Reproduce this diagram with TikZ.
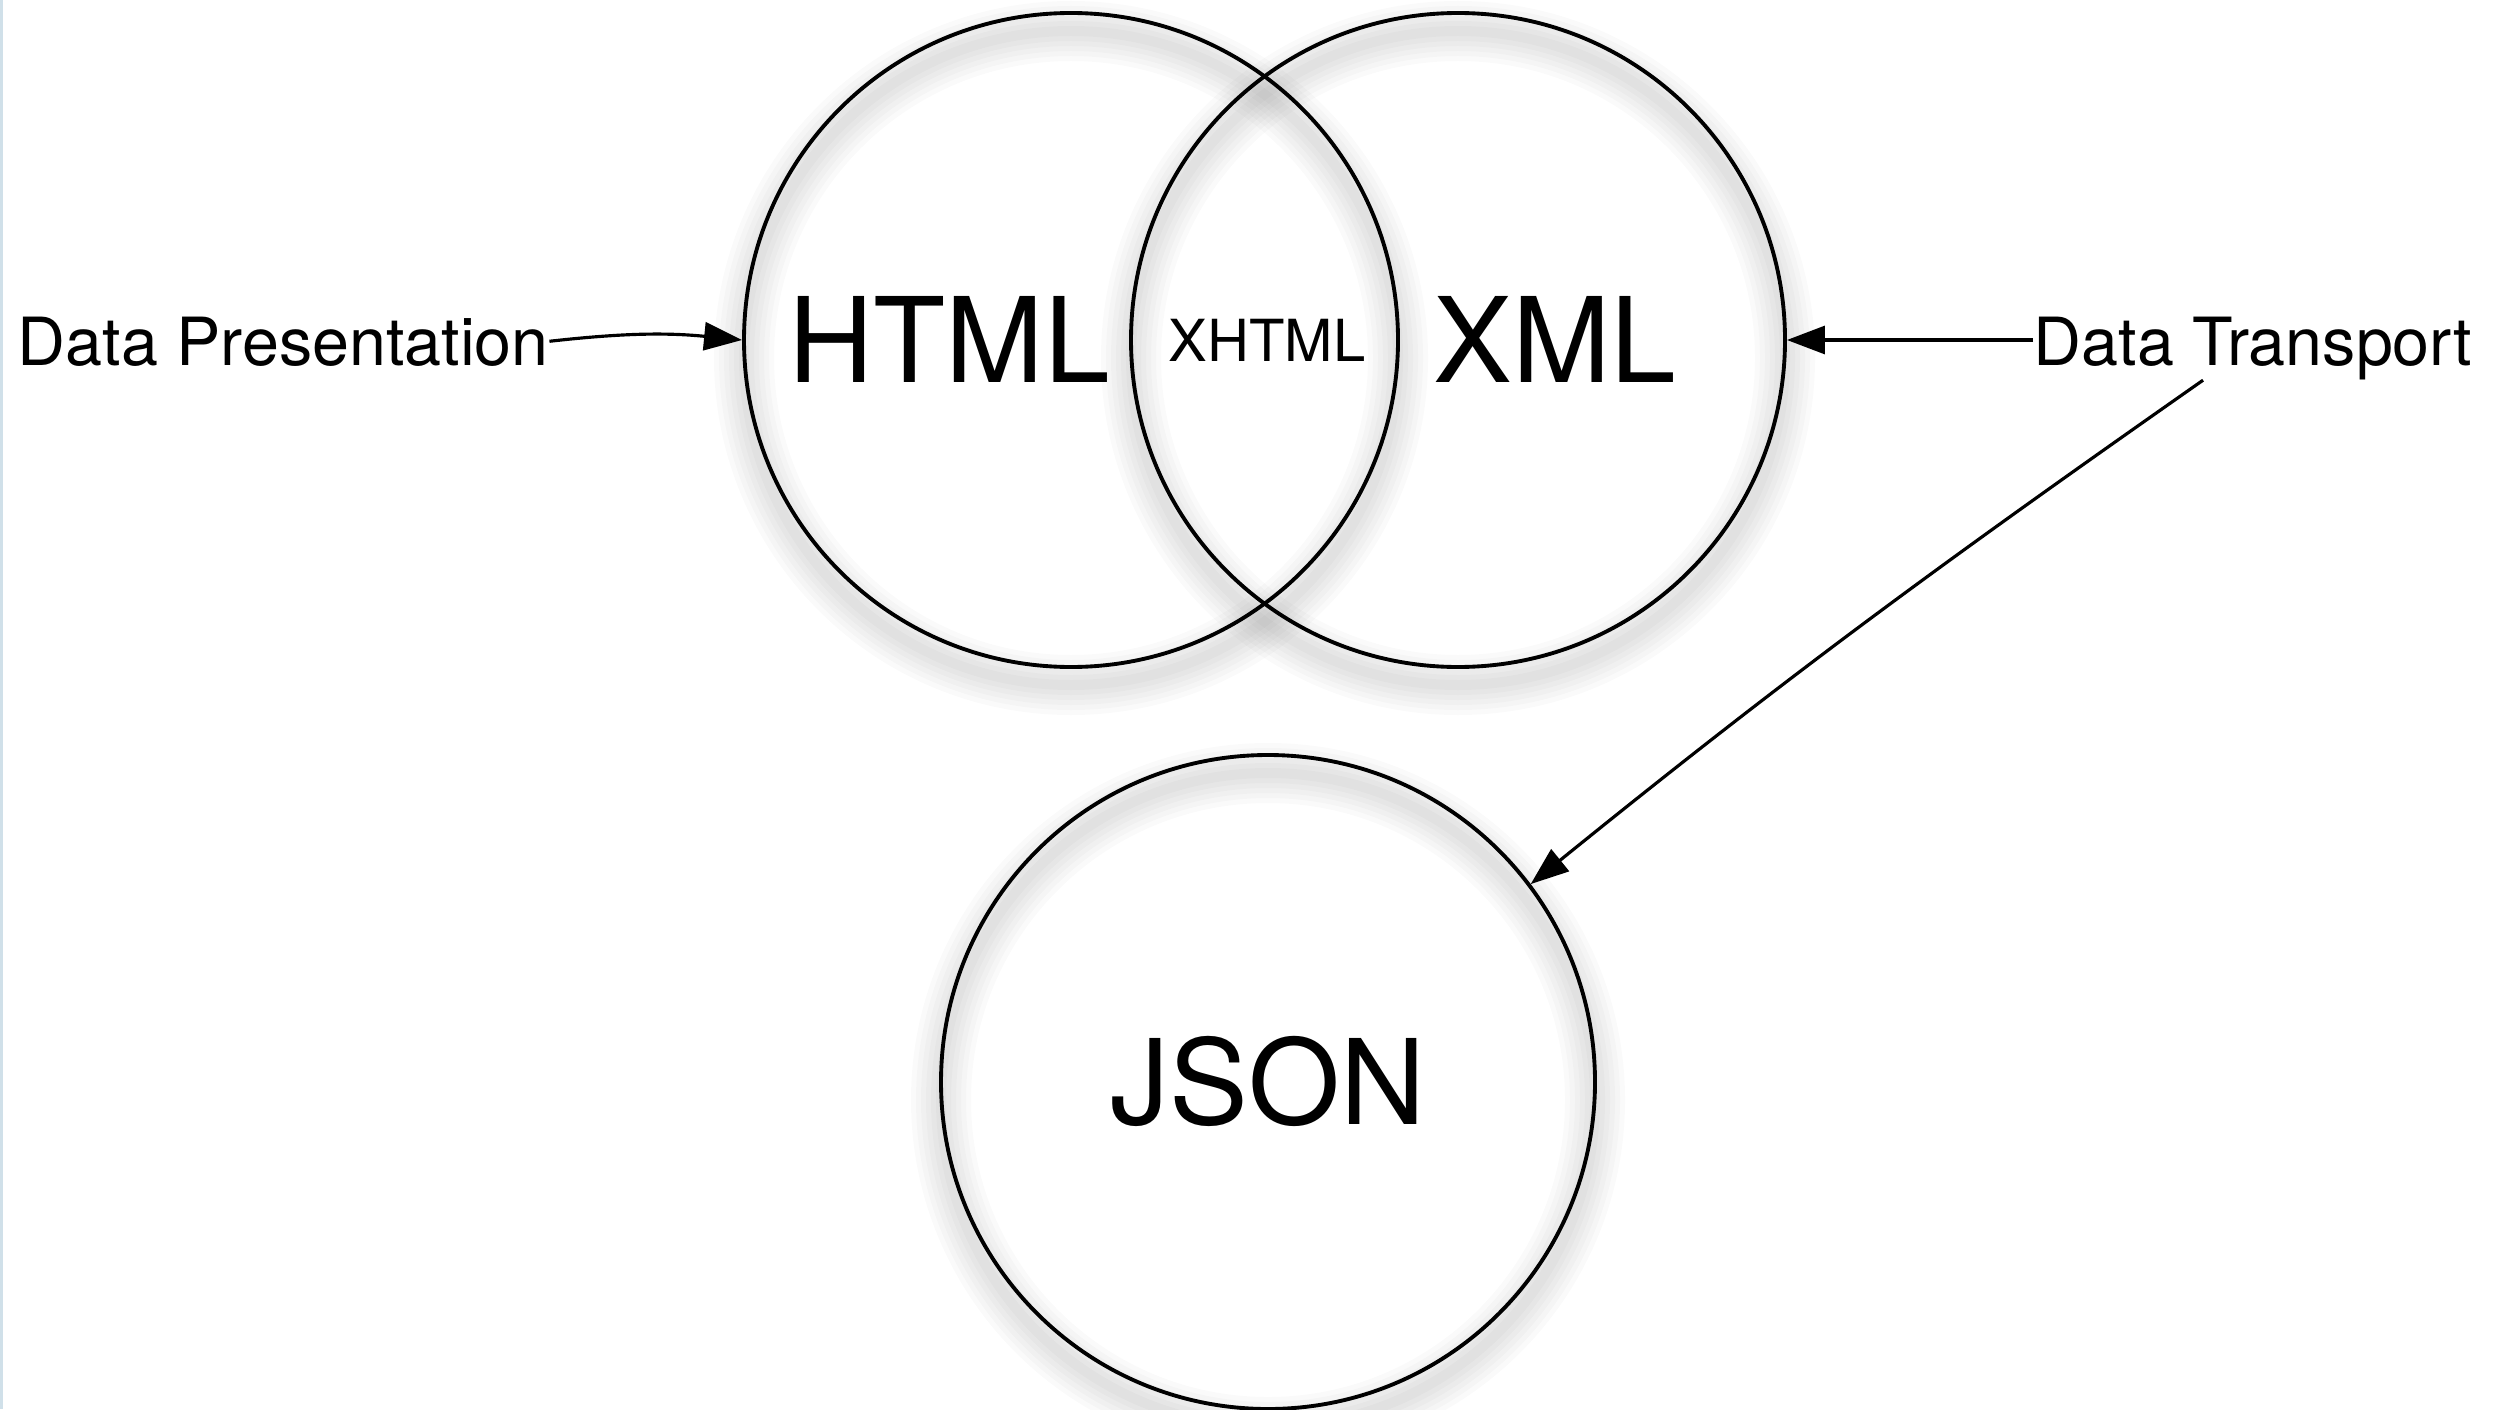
\documentclass[tikz,border=0pt]{standalone}
\usepackage{fontspec}
\setmainfont{TeX Gyre Heros}
\usetikzlibrary{arrows.meta,backgrounds}
\definecolor{frameblue}{RGB}{208,224,233}
\tikzset{>={Triangle[length=3.8mm,width=2.8mm]},
every edge/.append style={line width=0.9pt},
ring/.style={circle,draw,line width=1.1pt,minimum size=6.54cm,inner sep=0pt},
setname/.style={font=\fontsize{33.6}{40}\selectfont,anchor=base,inner sep=0pt},
overlapname/.style={font=\fontsize{16.5}{20}\selectfont,anchor=base,inner sep=0pt},
sidelabel/.style={font=\fontsize{18.9}{23}\selectfont,anchor=base west,inner sep=0pt},
halo/.style={draw=black,line width=#1,opacity=0.018}}

\begin{document}
\begin{tikzpicture}
  \useasboundingbox (0,0) rectangle (25.15,-14.09);
  \fill[frameblue] (0,0) rectangle (0.03,-14.09);
  % the three sets
  \node[ring] (htmlc) at (10.71,-3.40) {};
  \node[ring] (xmlc)  at (14.58,-3.40) {};
  \node[ring] (jsonc) at (12.68,-10.82) {};
  \node[setname]     (html)  at (9.49,-3.82)   {HTML};
  \node[overlapname] (xhtml) at (12.67,-3.61)  {XHTML};
  \node[setname]     (xml)   at (15.55,-3.82)  {XML};
  \node[setname]     (json)  at (12.68,-11.24) {JSON};
  \node[sidelabel] (dp) at (0.17,-3.65)  {Data Presentation};
  \node[sidelabel] (dt) at (20.33,-3.65) {Data Transport};
  \path
    (dp.east) edge [->, bend left=6] (htmlc.west)
    (dt.west |- xmlc) edge [->] (xmlc)
    ([xshift=-5mm]dt.south) edge [->, out=215, in=39] (jsonc.37);
  \begin{scope}[on background layer]
    \foreach \c in {htmlc,xmlc,jsonc}
      \foreach \w in {6mm,5mm,4mm,3mm,2mm,1mm}
        \draw[halo=\w] ([yshift=-1.8mm]\c.center) circle [radius=3.27cm];
  \end{scope}
\end{tikzpicture}
\end{document}
